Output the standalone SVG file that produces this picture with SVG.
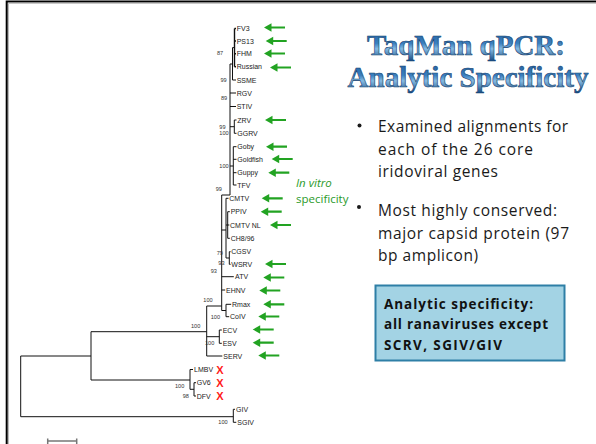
<svg xmlns="http://www.w3.org/2000/svg" xmlns:xlink="http://www.w3.org/1999/xlink" width="596" height="444" viewBox="0 0 596 444">
<defs>
<path id="arr" d="M0,0 L7.5,-4.2 V-1.1 H21 V1.1 H7.5 V4.2 Z" fill="#22a322"/>
<linearGradient id="tg" x1="0" y1="0" x2="0" y2="1">
<stop offset="0" stop-color="#1f5a98"/>
<stop offset="0.45" stop-color="#3a80c0"/>
<stop offset="0.62" stop-color="#86bbe3"/>
<stop offset="1" stop-color="#154a84"/>
</linearGradient>
<style>
.t{font-family:"Liberation Sans",Arial,sans-serif;font-size:7px;fill:#222}
.b{font-family:"Liberation Sans",Arial,sans-serif;font-size:5.6px;fill:#333}
.x{font-family:"Liberation Sans",Arial,sans-serif;font-size:11px;font-weight:bold;fill:#ff1a1a;text-anchor:middle}
.br{stroke:#111;stroke-width:1;fill:none}
.bul{font-family:"Open Sans","DejaVu Sans",sans-serif;font-size:15.5px;fill:#1a1a1a}
.box{font-family:"Open Sans","DejaVu Sans",sans-serif;font-size:13.5px;font-weight:bold;fill:#111}
.ttl{font-family:"Liberation Serif","Times New Roman",serif;font-size:29px;font-weight:bold;fill:url(#tg);stroke:#163f6e;stroke-width:0.6;text-anchor:middle}
.gr{font-family:"Open Sans","DejaVu Sans",sans-serif;font-size:11.5px;fill:#2a9a2a}
</style>
</defs>
<rect width="596" height="444" fill="#fff"/>
<path d="M6.7,446 V1.5 H598" fill="none" stroke="#000" stroke-width="2"/>
<path d="M8.5,446 V3.3 H598" fill="none" stroke="#bbb" stroke-width="1"/>

<g id="connectors" class="br">
<path d="M234.5,28.5 V66.7 M234.5,28.5 H236 M234.5,41 H236 M234.5,53.7 H236 M234.5,66.7 H236" stroke-width="1.4"/>
<path d="M232.5,47.6 H234.5 M232.5,47.6 V80 M232.5,80 H236"/>
<path d="M230,64 H232.5 M230,64 V195 M230,93 H236 M230,106.5 H236"/>
<path d="M230,126.7 H234.3 M234.3,120 V133.3 M234.3,120 H236.5 M234.3,133.3 H236.5"/>
<path d="M230,166 H233.3 M233.3,146.7 V185 M233.3,146.7 H236.5 M233.3,159.3 H236.5 M233.3,172.7 H236.5 M233.3,185 H236.5"/>
<path d="M221.7,195 H230 M221.7,195 V310.5"/>
<path d="M221.7,230 H226 M226,198.3 V258 M226,198.3 H228.5 M226,225 H227.7 M227.7,211.7 V238.3 M227.7,211.7 H229.8 M227.7,225 H229.3 M227.7,238.3 H229.8 M226,258 H229.3 M229.3,251.7 V264.3 M229.3,251.7 H230.6 M229.3,264.3 H230.6"/>
<path d="M221.7,276.7 H233.8 M221.7,290 H225.2"/>
<path d="M221.7,310.5 H226 M226,304.3 V316.7 M226,304.3 H231.2 M226,316.7 H229.2"/>
<path d="M206.7,306 H221.7 M206.7,306 V356 M206.7,336.7 H219.3 M219.3,330 V343.3 M219.3,330 H221.8 M219.3,343.3 H221.8 M206.7,356 H222.3"/>
<path d="M91,331.7 H206.7 M91,331.7 V380 M91,380 H190 M190,369.5 V389.3 M190,369.5 H193 M190,389.3 H194 M194,382.7 V396 M194,382.7 H196 M194,396 H196"/>
<path d="M20.7,356 H91 M20.7,356 V416.7 M20.7,416.7 H233.3 M233.3,409.3 V422.3 M233.3,409.3 H235 M233.3,422.3 H236.3"/>
</g>

<g id="scalebar" stroke="#777" stroke-width="1.5" fill="none">
<path d="M47.7,441 H76.7 M47.7,438.5 V444 M76.7,438.5 V444"/>
</g>

<g id="bootstrap" class="b">
<text x="217" y="54.7">87</text>
<text x="220.5" y="82">99</text>
<text x="221" y="99.7">89</text>
<text x="219.3" y="128.7">99</text>
<text x="219.3" y="134.7">100</text>
<text x="219.3" y="168">100</text>
<text x="215.7" y="191.3">99</text>
<text x="216.7" y="255.3">79</text>
<text x="218.3" y="265.3">93</text>
<text x="210.7" y="273">93</text>
<text x="203.3" y="302">100</text>
<text x="210.7" y="318.7">100</text>
<text x="191" y="328">100</text>
<text x="205" y="344.7">100</text>
<text x="175" y="388">100</text>
<text x="182.7" y="398">98</text>
<text x="218.3" y="423.7">100</text>
</g>

<g id="FV3"><text class="t" x="236.7" y="31">FV3</text><use xlink:href="#arr" x="264" y="27.5"/></g>
<g id="PS13"><text class="t" x="236.7" y="43.5">PS13</text><use xlink:href="#arr" x="265.7" y="41"/></g>
<g id="FHM"><text class="t" x="236.7" y="56.2">FHM</text><use xlink:href="#arr" x="264" y="53.5"/></g>
<g id="Russian"><text class="t" x="236.7" y="69.2">Russian</text><use xlink:href="#arr" x="270" y="67.5"/></g>
<g id="SSME"><text class="t" x="236.7" y="82.5">SSME</text></g>
<g id="RGV"><text class="t" x="236.7" y="95.5">RGV</text></g>
<g id="STIV"><text class="t" x="236.7" y="109">STIV</text></g>
<g id="ZRV"><text class="t" x="237.3" y="122.5">ZRV</text><use xlink:href="#arr" x="265" y="120"/></g>
<g id="GGRV"><text class="t" x="237.3" y="135.8">GGRV</text></g>
<g id="Goby"><text class="t" x="237.3" y="149.2">Goby</text><use xlink:href="#arr" x="266" y="146.7"/></g>
<g id="Goldfish"><text class="t" x="237.3" y="161.8">Goldfish</text><use xlink:href="#arr" x="271.7" y="159"/></g>
<g id="Guppy"><text class="t" x="237.3" y="175.2">Guppy</text><use xlink:href="#arr" x="268.3" y="172.7"/></g>
<g id="TFV"><text class="t" x="237.3" y="187.5">TFV</text></g>
<g id="CMTV"><text class="t" x="229.3" y="200.8">CMTV</text><use xlink:href="#arr" x="261.7" y="198.3"/></g>
<g id="PPIV"><text class="t" x="230.7" y="214.2">PPIV</text><use xlink:href="#arr" x="260.7" y="211.7"/></g>
<g id="CMTVNL"><text class="t" x="230" y="227.5">CMTV NL</text><use xlink:href="#arr" x="270" y="225"/></g>
<g id="CH896"><text class="t" x="230.7" y="240.8">CH8/96</text></g>
<g id="CGSV"><text class="t" x="231.3" y="254.2">CGSV</text></g>
<g id="WSRV"><text class="t" x="231.3" y="266.8">WSRV</text><use xlink:href="#arr" x="265" y="264"/></g>
<g id="ATV"><text class="t" x="235" y="279.2">ATV</text><use xlink:href="#arr" x="263.3" y="277.5"/></g>
<g id="EHNV"><text class="t" x="226" y="292.5">EHNV</text><use xlink:href="#arr" x="259.3" y="290.5"/></g>
<g id="Rmax"><text class="t" x="232" y="306.8">Rmax</text><use xlink:href="#arr" x="263.3" y="304.3"/></g>
<g id="CoIV"><text class="t" x="230" y="319.2">CoIV</text><use xlink:href="#arr" x="258.3" y="316.5"/></g>
<g id="ECV"><text class="t" x="222.7" y="332.5">ECV</text><use xlink:href="#arr" x="252.7" y="329.5"/></g>
<g id="ESV"><text class="t" x="222.7" y="345.8">ESV</text><use xlink:href="#arr" x="252.7" y="342.7"/></g>
<g id="SERV"><text class="t" x="223.3" y="358.5">SERV</text><use xlink:href="#arr" x="258.3" y="355.5"/></g>
<g id="LMBV"><text class="t" x="194" y="372">LMBV</text><text class="x" x="220" y="373.8">X</text></g>
<g id="GV6"><text class="t" x="196.7" y="385.2">GV6</text><text class="x" x="220" y="386.8">X</text></g>
<g id="DFV"><text class="t" x="196.7" y="398.5">DFV</text><text class="x" x="220" y="400">X</text></g>
<g id="GIV"><text class="t" x="236" y="411.8">GIV</text></g>
<g id="SGIV"><text class="t" x="237.3" y="424.8">SGIV</text></g>

<g id="invitro">
<text class="gr" x="296" y="187"><tspan font-style="italic">In vitro</tspan></text>
<text class="gr" x="296" y="202.5">specificity</text>
</g>

<g id="title">
<text class="ttl" x="466" y="55">TaqMan qPCR:</text>
<text class="ttl" x="468" y="87">Analytic Specificity</text>
</g>

<g id="bullets">
<circle cx="359.5" cy="125.5" r="2" fill="#1a1a1a"/>
<text class="bul" x="378" y="132" textLength="190">Examined alignments for</text>
<text class="bul" x="378" y="155" textLength="155">each of the 26 core</text>
<text class="bul" x="378" y="177" textLength="120">iridoviral genes</text>
<circle cx="359" cy="207" r="2" fill="#1a1a1a"/>
<text class="bul" x="378" y="216" textLength="179">Most highly conserved:</text>
<text class="bul" x="378" y="239" textLength="191">major capsid protein (97</text>
<text class="bul" x="378" y="261" textLength="100">bp amplicon)</text>
</g>

<g id="specbox">
<rect x="375.5" y="285.5" width="189" height="75" fill="#a3d3e4" stroke="#2e7fa6" stroke-width="2"/>
<text class="box" x="384" y="308.5" textLength="149">Analytic specificity:</text>
<text class="box" x="384" y="329" textLength="164">all ranaviruses except</text>
<text class="box" x="384" y="350" textLength="118">SCRV, SGIV/GIV</text>
</g>
</svg>
